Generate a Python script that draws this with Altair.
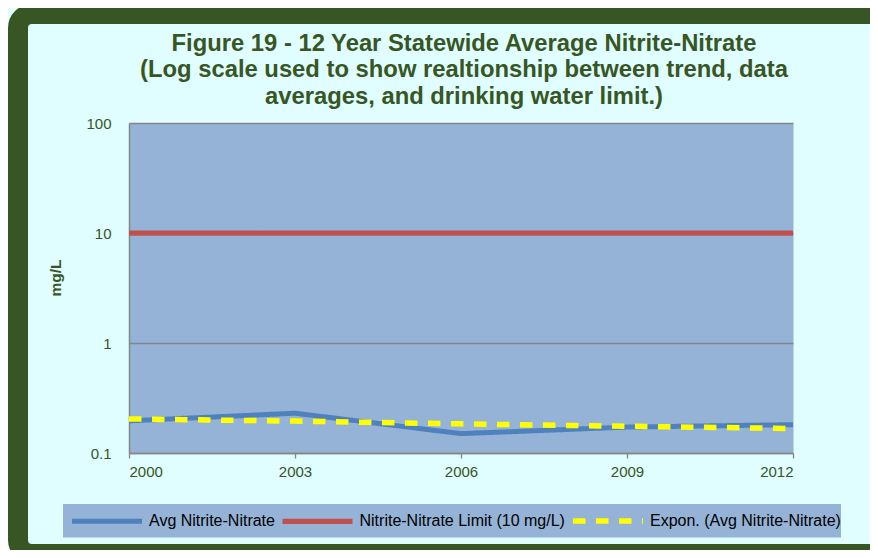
import altair as alt
import pandas as pd

# ---- data ----
years = [2000, 2003, 2006, 2009, 2012]
avg_values = [0.196, 0.230, 0.150, 0.172, 0.181]
limit_values = [10, 10, 10, 10, 10]
trend_values = [0.204, 0.195, 0.184, 0.175, 0.167]
series_names = [
    "Avg Nitrite-Nitrate",
    "Nitrite-Nitrate Limit (10 mg/L)",
    "Expon. (Avg Nitrite-Nitrate)",
]
y_ticks = [0.1, 1, 10, 100]
title_lines = [
    "Figure 19 - 12 Year Statewide Average Nitrite-Nitrate",
    "(Log scale used to show realtionship between trend, data",
    "averages, and drinking water limit.)",
]

rows = []
for name, vals in zip(series_names, [avg_values, limit_values, trend_values]):
    for yr, v in zip(years, vals):
        rows.append({"series": name, "year": yr, "value": v})
df = pd.DataFrame(rows)

# ---- styles ----
GREEN = "#375623"
CYAN = "#E0FDFF"
PLOT = "#95B3D7"
GRID = "#868686"
FONT = "Liberation Sans"
W, H = 664, 330

frame = alt.Chart(alt.Data(values=[{}])).mark_rect(
    fill="transparent", stroke=GREEN, strokeWidth=20, cornerRadius=14
).encode(
    x=alt.value(-111), x2=alt.value(761), y=alt.value(-109), y2=alt.value(431)
)

legend_box = alt.Chart(alt.Data(values=[{}])).mark_rect(fill=PLOT).encode(
    x=alt.value(-66), x2=alt.value(712), y=alt.value(381), y2=alt.value(414.5)
)

title_text = alt.Chart(alt.Data(values=[{}])).mark_text(
    font=FONT, fontSize=23.8, fontWeight="bold", color=GREEN,
    align="center", baseline="alphabetic", lineHeight=26.7,
).encode(
    x=alt.value(335), y=alt.value(-72.3), text=alt.value(title_lines)
)

legend_cfg = alt.Legend(
    title=None,
    orient="none",
    legendX=-60,
    legendY=360,
    direction="horizontal",
    columns=3,
    gridAlign="each",
    padding=0,
    labelOffset=4,
    columnPadding=-3.5,
    symbolType="stroke",
    symbolSize=4900,
    labelFont=FONT,
    labelFontSize=16,
    labelLimit=400,
    labelColor="#000000",
)

lines = alt.Chart(df).mark_line(strokeCap="butt").encode(
    x=alt.X(
        "year:Q",
        scale=alt.Scale(domain=[2000, 2012], nice=False, zero=False),
        axis=alt.Axis(
            values=years, format="d", title=None, grid=False,
            tickSize=5, tickColor=GRID, tickWidth=1.3,
            domainColor=GRID, domainWidth=1.5,
            labelPadding=6, labelFont=FONT, labelFontSize=15, labelColor=GREEN,
        ),
    ),
    y=alt.Y(
        "value:Q",
        scale=alt.Scale(type="log", domain=[0.1, 100], nice=False),
        axis=alt.Axis(
            values=y_ticks, format="~g", title="mg/L",
            grid=True, gridColor=GRID, gridWidth=1.3,
            ticks=False, tickSize=0, domainColor=GRID, domainWidth=1.5,
            labelPadding=18, labelFont=FONT, labelFontSize=15, labelColor=GREEN,
            titleFont=FONT, titleFontSize=15.5, titleFontWeight="bold",
            titleColor=GREEN, titleX=-74, titleY=154.5, titleAngle=270,
            titleAlign="center", titleBaseline="middle",
        ),
    ),
    color=alt.Color(
        "series:N",
        scale=alt.Scale(domain=series_names, range=["#4F81BD", "#C0504D", "#FFFF00"]),
        legend=legend_cfg,
    ),
    strokeDash=alt.StrokeDash(
        "series:N",
        scale=alt.Scale(domain=series_names, range=[[1, 0], [1, 0], [12.5, 10.5]]),
        legend=legend_cfg,
    ),
    strokeWidth=alt.StrokeWidth(
        "series:N",
        scale=alt.Scale(domain=series_names, range=[5, 5.5, 3.2]),
        legend=legend_cfg,
    ),
)

chart = alt.layer(frame, legend_box, title_text, lines).properties(
    width=W,
    height=H,
    padding={"left": 121, "top": 115, "right": 77, "bottom": 97},
    autosize=alt.AutoSizeParams(type="none"),
    background=CYAN,
).configure_view(fill=PLOT, stroke="transparent")

chart.save("out.html", embed_options={"renderer": "svg", "actions": False})
